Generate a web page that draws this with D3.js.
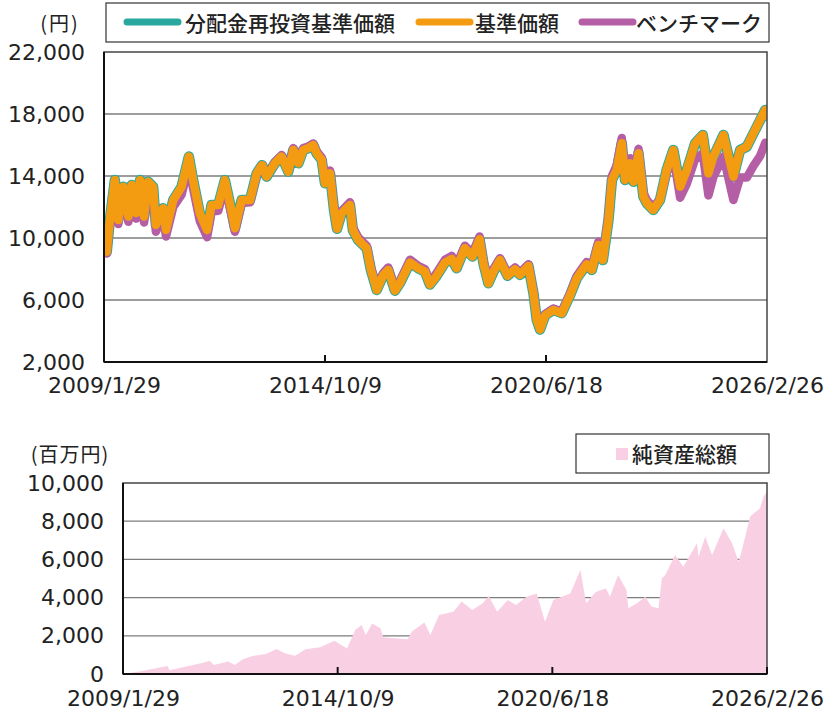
<!DOCTYPE html>
<html>
<head>
<meta charset="utf-8">
<script src="https://cdn.jsdelivr.net/npm/d3@7"></script>
<style>
  body { margin: 0; background: #fff; }
  text { font-family: "DejaVu Sans", sans-serif; fill: #222; }
  .jp { font-family: "Noto Sans CJK JP", sans-serif; }
</style>
</head>
<body>
<div id="chart"></div>
<script>
// ---- data ----
var navDates = [
  "2009-01-29","2009-02-24","2009-03-25","2009-05-11","2009-06-12","2009-07-28","2009-09-15","2009-10-16","2009-11-26",
  "2010-01-03","2010-02-10","2010-03-20","2010-05-06","2010-06-01","2010-08-09","2010-09-04","2010-11-12",
  "2011-01-29","2011-04-07","2011-05-17","2011-07-19","2011-09-26","2011-11-07",
  "2012-01-09","2012-03-11","2012-05-04","2012-06-14","2012-08-16","2012-11-03",
  "2013-01-05","2013-02-24","2013-04-08","2013-06-25","2013-08-27","2013-10-29","2013-12-15",
  "2014-02-01","2014-03-18","2014-05-04","2014-06-20","2014-07-22","2014-09-08","2014-10-09","2014-11-25",
  "2015-01-02","2015-01-30","2015-03-14","2015-06-01","2015-06-28","2015-08-17","2015-11-05","2015-12-15",
  "2016-02-08","2016-04-10","2016-05-26","2016-07-28","2016-09-14","2016-12-17",
  "2017-03-04","2017-05-06","2017-06-22","2017-08-25","2017-11-11",
  "2018-01-13","2018-02-28","2018-05-17","2018-07-27","2018-10-02","2018-11-07","2018-12-24",
  "2019-02-10","2019-04-12","2019-06-22","2019-09-01","2019-10-17",
  "2020-01-05","2020-02-21","2020-03-23","2020-04-23","2020-06-09","2020-08-26","2020-11-14",
  "2021-02-01","2021-04-04","2021-05-04","2021-07-06","2021-08-23","2021-10-24","2021-12-05",
  "2022-01-27","2022-02-28","2022-04-15","2022-06-01","2022-07-02","2022-08-18","2022-09-19","2022-11-05","2022-12-21",
  "2023-01-23","2023-03-24","2023-05-26","2023-07-28","2023-09-29","2023-12-02",
  "2024-02-03","2024-04-21","2024-07-02","2024-08-24","2024-10-10",
  "2025-01-13","2025-04-16","2025-06-18","2025-08-20","2025-10-22","2025-12-24",
  "2026-02-10","2026-02-26"
];

// 基準価額
var navValues = [
  10000,9120,11160,13740,11160,13310,11380,13420,11610,
  13740,11380,13630,13310,10840,11920,10520,12450,
  13310,15250,13740,11600,10520,12130,
  12130,13740,12020,10630,12450,12450,
  14170,14700,13960,14820,15250,14280,15680,
  14820,15680,15790,16000,15470,15040,13530,14170,
  11800,10600,11600,12130,10520,9870,9340,7940,
  6650,7620,7940,6600,7100,8420,
  8050,7830,7000,7560,8420,
  8640,8050,9340,8800,9920,8370,7080,
  7830,8580,7560,7980,7620,
  8200,6440,4710,4100,5000,5360,5150,
  6330,7400,7700,8300,7940,9550,8580,
  11160,13740,14390,16110,13740,14820,13630,15470,12670,
  12240,11810,12450,14390,15680,13310,
  14390,16110,16650,14170,15250,
  16650,13960,15680,15890,16760,17610,
  18260,17900
];

// 分配金再投資基準価額 (no distributions: same as 基準価額 in the picture)
var reinvestValues = [
  10000,9120,11160,13740,11160,13310,11380,13420,11610,
  13740,11380,13630,13310,10840,11920,10520,12450,
  13310,15250,13740,11600,10520,12130,
  12130,13740,12020,10630,12450,12450,
  14170,14700,13960,14820,15250,14280,15680,
  14820,15680,15790,16000,15470,15040,13530,14170,
  11800,10600,11600,12130,10520,9870,9340,7940,
  6650,7620,7940,6600,7100,8420,
  8050,7830,7000,7560,8420,
  8640,8050,9340,8800,9920,8370,7080,
  7830,8580,7560,7980,7620,
  8200,6440,4710,4100,5000,5360,5150,
  6330,7400,7700,8300,7940,9550,8580,
  11160,13740,14390,16110,13740,14820,13630,15470,12670,
  12240,11810,12450,14390,15680,13310,
  14390,16110,16650,14170,15250,
  16650,13960,15680,15890,16760,17610,
  18260,17900
];

// ベンチマーク
var benchValues = [
  10000,9000,10950,13500,10900,13050,11050,13100,11250,
  13400,11000,13250,12900,10400,11500,10100,12000,
  12800,14650,13200,11100,10050,11700,
  11750,13400,11750,10400,12250,12300,
  14100,14700,14000,14900,15350,14400,15800,
  14950,15800,15900,16100,15600,15200,13700,14350,
  11950,10750,11750,12300,10700,10050,9500,8100,
  6800,7750,8100,6750,7250,8600,
  8200,8000,7150,7750,8600,
  8850,8250,9500,9000,10100,8550,7250,
  8000,8700,7700,8100,7750,
  8300,6550,4800,4200,5100,5450,5250,
  6450,7550,7850,8450,8100,9750,8800,
  11450,14000,14700,16450,14050,15150,13950,15750,12900,
  12450,11950,12500,14200,15300,12600,
  13500,15100,15450,12750,13950,
  15250,12450,13900,13900,14650,15300,
  16150,16000
];

// 純資産総額 (百万円)
var assetDates = [
  "2009-01-29","2009-07-18","2010-04-08","2010-04-22","2011-03-17","2011-05-18","2011-06-28","2011-11-13",
  "2012-01-15","2012-04-05","2012-07-05","2012-11-13","2013-02-24","2013-05-15","2013-08-22","2013-12-02",
  "2014-04-22","2014-09-08","2015-01-08","2015-03-28","2015-05-29","2015-07-08","2015-09-08","2015-11-28","2015-12-24",
  "2016-04-15","2016-08-17","2016-09-26","2017-01-26","2017-03-25","2017-06-17","2017-11-03",
  "2018-01-22","2018-05-04","2018-08-14","2018-10-12","2019-01-01","2019-04-13","2019-07-02","2019-10-13",
  "2020-01-19","2020-04-08","2020-06-28","2020-12-09","2021-03-17","2021-05-12","2021-08-08","2021-11-18","2021-12-28",
  "2022-03-17","2022-06-06","2022-06-24","2022-09-16","2022-12-06","2023-02-02","2023-04-12","2023-05-15","2023-06-17",
  "2023-09-20","2023-12-09","2024-04-19","2024-05-04","2024-07-08","2024-09-12",
  "2025-01-01","2025-03-25","2025-05-27","2025-06-28","2025-08-14","2025-09-16","2025-12-20","2026-01-22","2026-02-26"
];
var assetValues = [
  0,150,420,200,590,700,470,650,
  470,770,940,1050,1310,1080,960,1290,
  1400,1740,1340,2300,2570,2040,2650,2390,1920,
  1870,1820,2220,2690,2040,3090,3260,
  3790,3350,3700,4080,3260,3870,3610,4050,
  4220,2740,3870,4220,5450,3700,4280,4490,4050,
  5180,4400,3440,3700,4050,3530,3440,5010,5180,
  6230,5620,6840,6140,7190,6230,
  7630,6840,5880,6490,7540,8240,8680,9280,9540
];

var dateTicks = ["2009-01-29", "2014-10-09", "2020-06-18", "2026-02-26"];
var priceTicks = [2000, 6000, 10000, 14000, 18000, 22000];
var assetTicks = [0, 2000, 4000, 6000, 8000, 10000];
var seriesNames = ["分配金再投資基準価額", "基準価額", "ベンチマーク"];
var seriesColors = ["#2aa8a0", "#f39c12", "#b45fa5"];
var assetName = "純資産総額";

// ---- setup ----
var parseDate = d3.timeParse("%Y-%m-%d");
var fmtDate = d3.timeFormat("%Y/%-m/%-d");
var tickDates = dateTicks.map(parseDate);

var svg = d3.select("#chart").append("svg")
  .attr("width", 825)
  .attr("height", 711);

// ===== top chart: 基準価額 =====
var p1 = {left: 104, right: 767, top: 52, bottom: 362};

var x1 = d3.scaleTime()
  .domain([tickDates[0], tickDates[3]])
  .range([p1.left, p1.right]);
var y1 = d3.scaleLinear()
  .domain([2000, 22000])
  .range([p1.bottom, p1.top]);

svg.append("defs").append("clipPath").attr("id", "clipTop")
  .append("rect")
    .attr("x", p1.left).attr("y", p1.top)
    .attr("width", p1.right - p1.left).attr("height", p1.bottom - p1.top);

// gridlines
svg.append("g").selectAll("line")
  .data(priceTicks.slice(1, -1))
  .enter().append("line")
    .attr("x1", p1.left).attr("x2", p1.right)
    .attr("y1", d => y1(d)).attr("y2", d => y1(d))
    .attr("stroke", "#7d7d7d").attr("stroke-width", 1.3);

function makeSeries(vals) {
  return navDates.map((d, i) => ({date: parseDate(d), v: vals[i]}));
}
var line = d3.line()
  .x(d => x1(d.date))
  .y(d => y1(d.v));

var lineGroup = svg.append("g").attr("clip-path", "url(#clipTop)");
// draw order: reinvest (widest) -> benchmark -> nav on top
[[reinvestValues, seriesColors[0], 10.5],
 [benchValues, seriesColors[2], 8.5],
 [navValues, seriesColors[1], 8.5]].forEach(function(s) {
  lineGroup.append("path")
    .datum(makeSeries(s[0]))
    .attr("fill", "none")
    .attr("stroke", s[1])
    .attr("stroke-width", s[2])
    .attr("stroke-linejoin", "round")
    .attr("stroke-linecap", "round")
    .attr("d", line);
});

// frame
svg.append("rect")
  .attr("x", p1.left).attr("y", p1.top)
  .attr("width", p1.right - p1.left).attr("height", p1.bottom - p1.top)
  .attr("fill", "none").attr("stroke", "#444").attr("stroke-width", 1.5);
svg.append("line").attr("x1", p1.left).attr("x2", p1.left).attr("y1", p1.top).attr("y2", p1.bottom)
  .attr("stroke", "#111").attr("stroke-width", 2);
svg.append("line").attr("x1", p1.left).attr("x2", p1.right).attr("y1", p1.bottom).attr("y2", p1.bottom)
  .attr("stroke", "#111").attr("stroke-width", 2);

// axes
var yAxis1 = svg.append("g")
  .attr("transform", "translate(" + p1.left + ",0)")
  .call(d3.axisLeft(y1).tickValues(priceTicks).tickFormat(d3.format(",")).tickSize(0).tickPadding(19));
yAxis1.select(".domain").remove();
yAxis1.selectAll("text").style("font-size", "22px").attr("fill", "#222");

var xAxis1 = svg.append("g")
  .attr("transform", "translate(0," + p1.bottom + ")")
  .call(d3.axisBottom(x1).tickValues(tickDates).tickFormat(fmtDate).tickSize(0).tickPadding(15));
xAxis1.select(".domain").remove();
xAxis1.selectAll("text").style("font-size", "22px").attr("fill", "#222");

// inner tick marks
svg.append("g").selectAll("line")
  .data(tickDates.slice(1, -1))
  .enter().append("line")
    .attr("x1", d => x1(d)).attr("x2", d => x1(d))
    .attr("y1", p1.bottom).attr("y2", p1.bottom - 7)
    .attr("stroke", "#111").attr("stroke-width", 2);

svg.append("text").attr("class", "jp")
  .attr("x", 60).attr("y", 22)
  .attr("text-anchor", "middle").attr("dominant-baseline", "central")
  .style("font-size", "20px").style("letter-spacing", "2px")
  .text("(円)");

// legend
svg.append("rect")
  .attr("x", 106).attr("y", 3).attr("width", 663).attr("height", 39)
  .attr("fill", "#fff").attr("stroke", "#333").attr("stroke-width", 1.2);
var legendPos = [{x: 124, tx: 185}, {x: 416, tx: 475}, {x: 579, tx: 636}];
legendPos.forEach(function(p, i) {
  svg.append("line")
    .attr("x1", p.x + 3).attr("x2", p.x + 54).attr("y1", 22).attr("y2", 22)
    .attr("stroke", seriesColors[i]).attr("stroke-width", 7)
    .attr("stroke-linecap", "round");
  svg.append("text").attr("class", "jp")
    .attr("x", p.tx).attr("y", 22)
    .attr("dominant-baseline", "central")
    .style("font-size", "21px").style("font-weight", 500)
    .text(seriesNames[i]);
});

// ===== bottom chart: 純資産総額 =====
var p2 = {left: 123, right: 767, top: 483, bottom: 674};

var x2 = d3.scaleTime()
  .domain([tickDates[0], tickDates[3]])
  .range([p2.left, p2.right]);
var y2 = d3.scaleLinear()
  .domain([0, 10000])
  .range([p2.bottom, p2.top]);

svg.append("g").selectAll("line")
  .data(assetTicks.slice(1, -1))
  .enter().append("line")
    .attr("x1", p2.left).attr("x2", p2.right)
    .attr("y1", d => y2(d)).attr("y2", d => y2(d))
    .attr("stroke", "#7d7d7d").attr("stroke-width", 1.3);

var assetData = assetDates.map((d, i) => ({date: parseDate(d), v: assetValues[i]}));
svg.append("path")
  .datum(assetData)
  .attr("fill", "#f9d0e3")
  .attr("d", d3.area()
    .x(d => x2(d.date))
    .y0(y2(0))
    .y1(d => y2(d.v)));

svg.append("rect")
  .attr("x", p2.left).attr("y", p2.top)
  .attr("width", p2.right - p2.left).attr("height", p2.bottom - p2.top)
  .attr("fill", "none").attr("stroke", "#444").attr("stroke-width", 1.5);
svg.append("line").attr("x1", p2.left).attr("x2", p2.left).attr("y1", p2.top).attr("y2", p2.bottom)
  .attr("stroke", "#111").attr("stroke-width", 2);
svg.append("line").attr("x1", p2.left).attr("x2", p2.right).attr("y1", p2.bottom).attr("y2", p2.bottom)
  .attr("stroke", "#111").attr("stroke-width", 2);

var yAxis2 = svg.append("g")
  .attr("transform", "translate(" + p2.left + ",0)")
  .call(d3.axisLeft(y2).tickValues(assetTicks).tickFormat(d3.format(",")).tickSize(0).tickPadding(19));
yAxis2.select(".domain").remove();
yAxis2.selectAll("text").style("font-size", "22px").attr("fill", "#222");

var xAxis2 = svg.append("g")
  .attr("transform", "translate(0," + p2.bottom + ")")
  .call(d3.axisBottom(x2).tickValues(tickDates).tickFormat(fmtDate).tickSize(0).tickPadding(16));
xAxis2.select(".domain").remove();
xAxis2.selectAll("text").style("font-size", "22px").attr("fill", "#222");

svg.append("g").selectAll("line")
  .data(tickDates.slice(1))
  .enter().append("line")
    .attr("x1", d => x2(d)).attr("x2", d => x2(d))
    .attr("y1", p2.bottom).attr("y2", p2.bottom - 7)
    .attr("stroke", "#111").attr("stroke-width", 2);

svg.append("text").attr("class", "jp")
  .attr("x", 70).attr("y", 453)
  .attr("text-anchor", "middle").attr("dominant-baseline", "central")
  .style("font-size", "20px").style("letter-spacing", "1px")
  .text("(百万円)");

svg.append("rect")
  .attr("x", 576).attr("y", 434).attr("width", 193).attr("height", 39)
  .attr("fill", "#fff").attr("stroke", "#333").attr("stroke-width", 1.2);
svg.append("rect")
  .attr("x", 616).attr("y", 448).attr("width", 12).attr("height", 12)
  .attr("fill", "#f9d0e3");
svg.append("text").attr("class", "jp")
  .attr("x", 632).attr("y", 453)
  .attr("dominant-baseline", "central")
  .style("font-size", "21px").style("font-weight", 500)
  .text(assetName);
</script>
</body>
</html>
